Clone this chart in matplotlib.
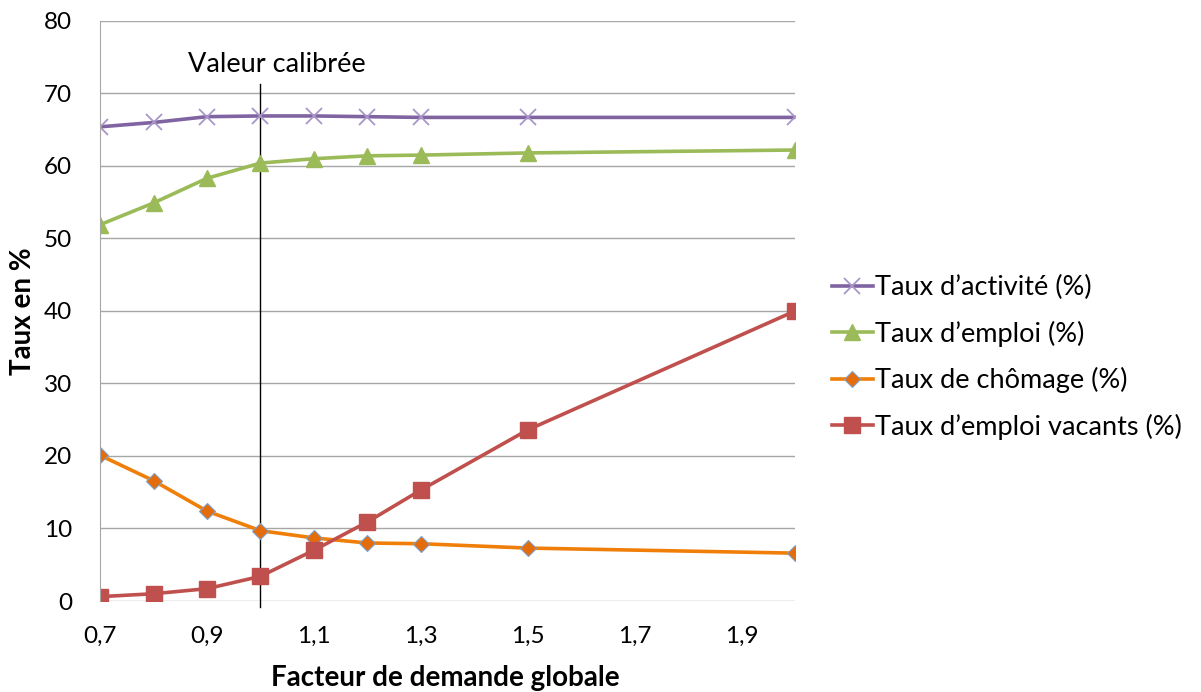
import matplotlib.pyplot as plt

plt.rcParams['font.family'] = ['Lato', 'DejaVu Sans']

# facteur de demande globale
facteur = [0.7, 0.8, 0.9, 1.0, 1.1, 1.2, 1.3, 1.5, 2.0]

activite = [65.4, 66.0, 66.8, 66.9, 66.9, 66.8, 66.7, 66.7, 66.7]
emploi = [51.9, 54.9, 58.3, 60.4, 61.0, 61.4, 61.5, 61.8, 62.2]
chomage = [20.1, 16.6, 12.4, 9.7, 8.7, 8.0, 7.9, 7.3, 6.6]
vacants = [0.6, 1.0, 1.7, 3.4, 7.0, 10.9, 15.3, 23.6, 40.0]

labels = ["Taux d\u2019activité (%)", "Taux d\u2019emploi (%)",
          "Taux de chômage (%)", "Taux d\u2019emploi vacants (%)"]
xticks = [0.7, 0.9, 1.1, 1.3, 1.5, 1.7, 1.9]
yticks = [0, 10, 20, 30, 40, 50, 60, 70, 80]
calib = 1.0

fig = plt.figure(figsize=(12.01, 6.92), dpi=100)
ax = fig.add_axes([0.0833, 0.1315, 0.5787, 0.8382])

ax.plot(facteur, activite, color='#8064A2', lw=2.6, marker='x', ms=12,
        mec='#A996C9', mew=1.3, label=labels[0])
ax.plot(facteur, emploi, color='#9BBB59', lw=2.6, marker='^', ms=12,
        mec='#9BBB59', label=labels[1])
ax.plot(facteur, chomage, color='#F07F09', lw=2.6, marker='D', ms=8.5,
        mfc='#E46C0A', mec='#7F9FC8', mew=0.8, label=labels[2])
ax.plot(facteur, vacants, color='#C0504D', lw=2.6, marker='s', ms=12,
        mec='#C0504D', label=labels[3])

# ligne de la valeur calibrée
ax.plot([calib, calib], [-0.8, 71.3], color='black', lw=1, clip_on=False, zorder=1)
ax.text(1.03, 74.0, "Valeur calibrée", ha='center', va='center', fontsize=19.5)

ax.set_xlim(0.7, 2.0)
ax.set_ylim(0, 80)
ax.set_xticks(xticks)
ax.set_xticklabels([f"{t:.1f}".replace('.', ',') for t in xticks])
ax.set_yticks(yticks)
ax.tick_params(length=0, labelsize=17.5)
ax.tick_params(axis='x', pad=18)
ax.tick_params(axis='y', pad=20)
ax.grid(axis='y', color='#A6A6A6', lw=1)
ax.set_axisbelow(True)
for s in ['top', 'right', 'bottom']:
    ax.spines[s].set_visible(False)
ax.spines['left'].set_color('#A6A6A6')

fig.text(445 / 1201, 1 - 678 / 692, "Facteur de demande globale",
         ha='center', va='center', fontsize=20, fontweight='bold')
fig.text(23 / 1201, 1 - 311 / 692, "Taux en %", rotation=90,
         ha='center', va='center', fontsize=20, fontweight='bold')

ax.legend(loc='center left', bbox_to_anchor=(1.018, 0.42), frameon=False,
          fontsize=19.5, handlelength=1.5, handletextpad=0.1, labelspacing=0.75)

fig.savefig('out.png', dpi=100)
